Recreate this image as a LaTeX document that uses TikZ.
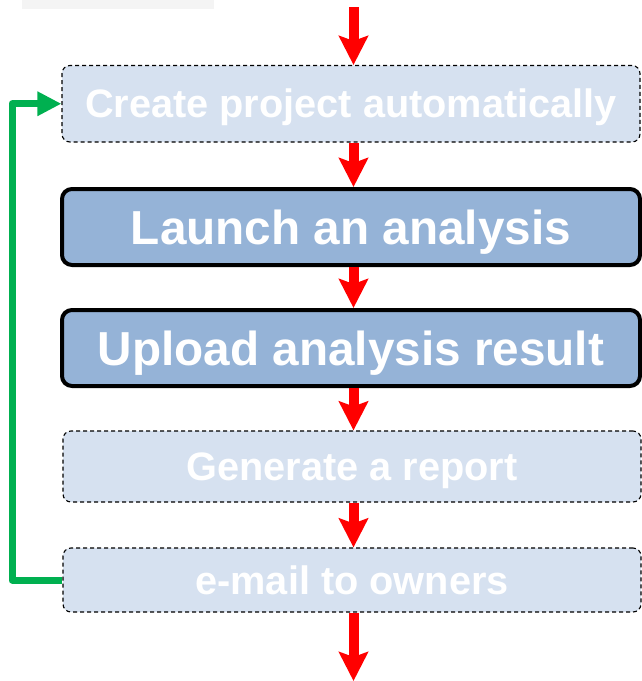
\documentclass[tikz,border=0pt]{standalone}
\usepackage{fontspec}
\setmainfont{Liberation Sans}
\usetikzlibrary{arrows.meta}
\definecolor{lightbox}{HTML}{D6E1F0}
\definecolor{darkbox}{HTML}{95B3D7}
\definecolor{flowred}{HTML}{FF0000}
\definecolor{loopgreen}{HTML}{00B050}
\definecolor{tabgray}{HTML}{F4F4F4}
\tikzset{
  % text box sized to the capital height, so the capitals sit centred
  optbox/.style={rectangle, rounded corners=8pt, fill=lightbox, draw=black,
    line width=1.1pt, dash pattern=on 4pt off 3pt, inner sep=0pt,
    minimum width=578pt, text=white, text height=28.4pt, text depth=0pt,
    font=\bfseries\fontsize{39.7}{44}\selectfont},
  mainbox/.style={rectangle, rounded corners=10pt, fill=darkbox, draw=black,
    line width=4pt, inner sep=0pt, minimum width=578pt, minimum height=76pt,
    text=white, text height=34.2pt, text depth=0pt,
    font=\bfseries\fontsize{47.7}{52}\selectfont},
  flowarrow/.style={draw=flowred, line width=10pt,
    -{Stealth[length=29pt, width=29pt, inset=5pt]}},
  looparrow/.style={draw=loopgreen, line width=7pt, line join=round,
    -{Triangle[length=24pt, width=23pt]}}
}
\begin{document}
\begin{tikzpicture}[x=1pt, y=-1pt]
  \useasboundingbox (0,0) rectangle (642,681);
  \clip (0,0) rectangle (642,681);
  % faint tab at the upper left
  \fill[tabgray] (22,0) rectangle (214,8.5);

  % process steps
  \node[optbox, minimum height=76.5pt] (b1) at (351,103.75) {Create project automatically};
  \node[mainbox] (b2) at (351,227) {Launch an analysis};
  \node[mainbox] (b3) at (351,348) {Upload analysis result};
  \node[optbox, minimum height=71pt] (b4) at (352,466.5) {Generate a report};
  \node[optbox, minimum height=64pt] (b5) at (352,580) {e-mail to owners};

  % column of the flow arrows, entry and exit points
  \coordinate (ax) at (353.5,0);
  \coordinate (in) at (353.5,7);
  \coordinate (out) at (353.5,681);
  \coordinate (gl) at (12,0);

  \draw[flowarrow] (in) -- (b1.north -| ax);
  \draw[flowarrow] (b1.south -| ax) -- (b2.north -| ax);
  \draw[flowarrow] (b2.south -| ax) -- (b3.north -| ax);
  \draw[flowarrow] (b3.south -| ax) -- (b4.north -| ax);
  \draw[flowarrow] (b4.south -| ax) -- (b5.north -| ax);
  \draw[flowarrow] (b5.south -| ax) -- (out);

  % loop back to the first step
  \draw[looparrow] (b5.west) -| (gl |- b1.west) -- (b1.west);
\end{tikzpicture}
\end{document}
